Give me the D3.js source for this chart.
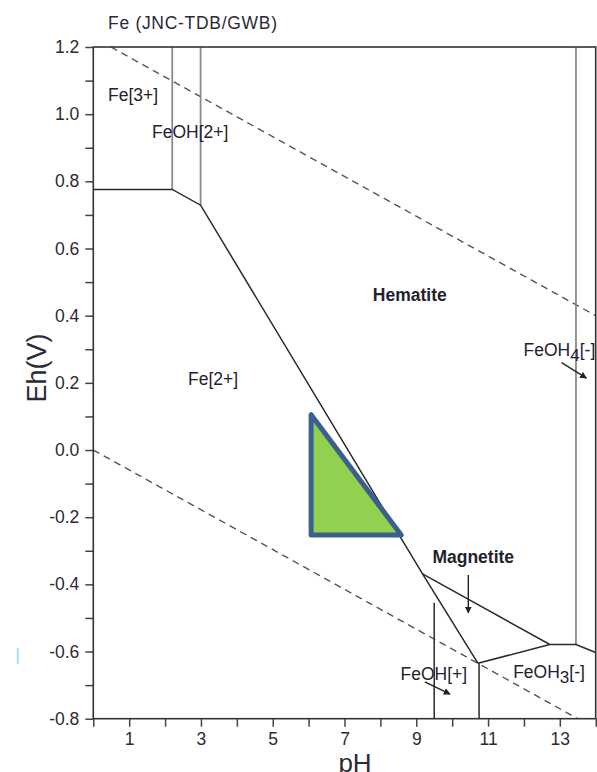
<!DOCTYPE html>
<html>
<head>
<meta charset="utf-8">
<script src="https://cdn.jsdelivr.net/npm/d3@7"></script>
<style>
  body { margin: 0; background: #fff; }
  svg { display: block; font-family: "Liberation Sans", Arial, sans-serif; }
</style>
</head>
<body>
<script>
// pH / Eh values
const solidLines = [
  [[0, 0.776], [2.20, 0.776], [2.99, 0.729], [9.175, -0.369], [10.72, -0.635]],
  [[9.175, -0.369], [12.72, -0.579], [13.45, -0.579], [14, -0.603]],
  [[10.72, -0.635], [12.72, -0.579]],
  [[9.50, -0.455], [9.50, -0.8]],
  [[10.75, -0.635], [10.75, -0.8]],
]
const greyLines = [
  [[2.20, 1.2], [2.20, 0.776]],
  [[2.99, 1.2], [2.99, 0.729]],
  [[13.45, 1.2], [13.45, -0.579]],
]
const waterLines = [
  [[0.49, 1.2], [14, 0.40]],
  [[0, 0], [13.5, -0.8]],
]
const triangle = [[6.07, 0.105], [6.07, -0.253], [8.58, -0.253]]

const regionLabels = [
  {text: "Fe[3+]", pH: 0.41, eh: 1.039},
  {text: "FeOH[2+]", pH: 1.635, eh: 0.929},
  {text: "Fe[2+]", pH: 2.64, eh: 0.193},
  {text: "Hematite", pH: 7.79, eh: 0.445, bold: true},
  {text: "Magnetite", pH: 9.45, eh: -0.335, bold: true},
  {text: "FeOH[+]", pH: 8.56, eh: -0.685},
]
const subLabels = [
  {pre: "FeOH", sub: "4", post: "[-]", pH: 11.99, eh: 0.280},
  {pre: "FeOH", sub: "3", post: "[-]", pH: 11.70, eh: -0.680},
]
const arrows = [
  [[13.05, 0.260], [13.74, 0.214]],
  [[10.45, -0.372], [10.45, -0.485]],
  [[9.24, -0.690], [9.94, -0.727]],
]

const yTicks = d3.range(-8, 13).map(d => d / 10)
const yTickLabels = [-0.8, -0.6, -0.4, -0.2, 0.0, 0.2, 0.4, 0.6, 0.8, 1.0, 1.2]
const xTicks = d3.range(0, 15)
const xTickLabels = [1, 3, 5, 7, 9, 11, 13]

async function drawChart() {
  let dimensions = {
    width: 597,
    height: 772,
    margin: {top: 47, right: 1.3, bottom: 53.3, left: 93.3},
  }
  dimensions.boundedWidth = dimensions.width - dimensions.margin.left - dimensions.margin.right
  dimensions.boundedHeight = dimensions.height - dimensions.margin.top - dimensions.margin.bottom

  const wrapper = d3.select("body")
    .append("svg")
      .attr("width", dimensions.width)
      .attr("height", dimensions.height)

  const bounds = wrapper.append("g")
    .attr("transform", `translate(${dimensions.margin.left}, ${dimensions.margin.top})`)

  const xScale = d3.scaleLinear()
    .domain([0, 14])
    .range([0, dimensions.boundedWidth])

  const yScale = d3.scaleLinear()
    .domain([-0.8, 1.2])
    .range([dimensions.boundedHeight, 0])

  const line = d3.line()
    .x(d => xScale(d[0]))
    .y(d => yScale(d[1]))

  wrapper.append("defs").append("marker")
      .attr("id", "head")
      .attr("viewBox", "0 0 10 10")
      .attr("refX", 9)
      .attr("refY", 5)
      .attr("markerWidth", 7)
      .attr("markerHeight", 7)
      .attr("markerUnits", "userSpaceOnUse")
      .attr("orient", "auto")
    .append("path")
      .attr("d", "M0,0 L10,5 L0,10 z")
      .attr("fill", "#222")

  // water stability lines
  bounds.selectAll(".water")
    .data(waterLines)
    .join("path")
      .attr("class", "water")
      .attr("d", line)
      .attr("fill", "none")
      .attr("stroke", "#555")
      .attr("stroke-width", 1.4)
      .attr("stroke-dasharray", "7,5")

  // grey vertical boundaries
  bounds.selectAll(".grey")
    .data(greyLines)
    .join("path")
      .attr("class", "grey")
      .attr("d", line)
      .attr("fill", "none")
      .attr("stroke", "#8a8a8a")
      .attr("stroke-width", 1.8)

  bounds.selectAll(".bound")
    .data(solidLines)
    .join("path")
      .attr("class", "bound")
      .attr("d", line)
      .attr("fill", "none")
      .attr("stroke", "#2a2a2a")
      .attr("stroke-width", 1.5)

  // axes
  const xAxisGenerator = d3.axisBottom(xScale)
    .tickValues(xTicks)
    .tickSize(8)
    .tickFormat(d => xTickLabels.includes(d) ? d : "")

  const xAxis = bounds.append("g")
    .call(xAxisGenerator)
      .attr("transform", `translate(0, ${dimensions.boundedHeight})`)

  const yAxisGenerator = d3.axisLeft(yScale)
    .tickValues(yTicks)
    .tickSize(8)
    .tickFormat(d => yTickLabels.some(v => Math.abs(v - d) < 1e-9) ? d.toFixed(1) : "")

  const yAxis = bounds.append("g")
    .call(yAxisGenerator)

  ;[xAxis, yAxis].forEach(axis => {
    axis.select(".domain").remove()
    axis.selectAll(".tick line").attr("stroke", "#444").attr("stroke-width", 1.5)
    axis.selectAll(".tick text")
      .attr("fill", "#2b2b36")
      .style("font-size", "17.5px")
      .style("font-family", "'Liberation Sans', Arial, sans-serif")
  })
  xAxis.selectAll(".tick text").attr("y", 14)
  yAxis.selectAll(".tick text").attr("x", -14)

  // frame
  bounds.append("rect")
      .attr("width", dimensions.boundedWidth)
      .attr("height", dimensions.boundedHeight)
      .attr("fill", "none")
      .attr("stroke", "#333")
      .attr("stroke-width", 1.6)

  // highlighted triangle
  bounds.append("path")
      .attr("d", line(triangle) + "Z")
      .attr("fill", "#92d050")
      .attr("stroke", "#3b5f8e")
      .attr("stroke-width", 5)
      .attr("stroke-linejoin", "round")

  // region labels
  bounds.selectAll(".region")
    .data(regionLabels)
    .join("text")
      .attr("class", "region")
      .attr("x", d => xScale(d.pH))
      .attr("y", d => yScale(d.eh))
      .attr("fill", "#22222e")
      .style("font-size", "17.5px")
      .style("font-weight", d => d.bold ? "bold" : "normal")
      .text(d => d.text)

  const subs = bounds.selectAll(".sublabel")
    .data(subLabels)
    .join("text")
      .attr("class", "sublabel")
      .attr("x", d => xScale(d.pH))
      .attr("y", d => yScale(d.eh))
      .attr("fill", "#22222e")
      .style("font-size", "17.5px")
  subs.append("tspan").text(d => d.pre)
  subs.append("tspan").attr("dy", 5).style("font-size", "17px").text(d => d.sub)
  subs.append("tspan").attr("dy", -5).text(d => d.post)

  bounds.selectAll(".arrow")
    .data(arrows)
    .join("path")
      .attr("class", "arrow")
      .attr("d", line)
      .attr("stroke", "#222")
      .attr("stroke-width", 1.4)
      .attr("marker-end", "url(#head)")

  // titles
  wrapper.append("text")
      .attr("x", 108)
      .attr("y", 29)
      .attr("fill", "#2b2b36")
      .style("font-size", "17.5px")
      .style("letter-spacing", "0.7px")
      .text("Fe (JNC-TDB/GWB)")

  wrapper.append("text")
      .attr("transform", `translate(46, 368) rotate(-90)`)
      .attr("text-anchor", "middle")
      .attr("fill", "#2b2b36")
      .style("font-size", "27px")
      .text("Eh(V)")

  wrapper.append("text")
      .attr("x", 355)
      .attr("y", 772)
      .attr("text-anchor", "middle")
      .attr("fill", "#2b2b36")
      .style("font-size", "26px")
      .text("pH")

  // stray light-blue mark at left edge
  wrapper.append("line")
      .attr("x1", 17.7).attr("x2", 17.7)
      .attr("y1", 648).attr("y2", 664)
      .attr("stroke", "#aedcf3")
      .attr("stroke-width", 2)
}
drawChart()
</script>
</body>
</html>
